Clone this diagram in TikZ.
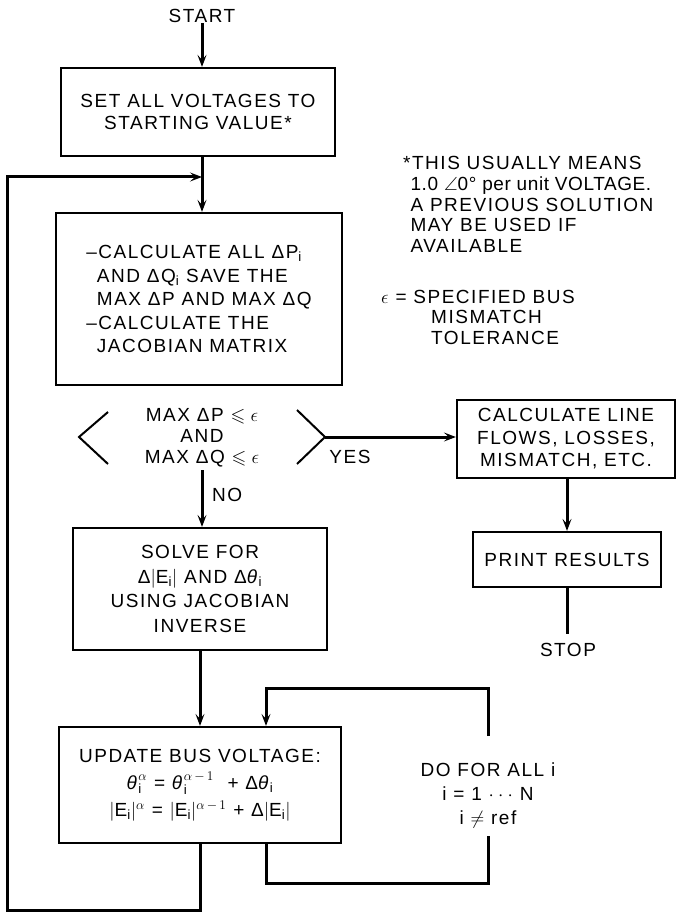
\RequirePackage{fix-cm}
\documentclass[tikz,border=0pt]{standalone}
\usepackage{amsmath,amssymb}
\usepackage{fontspec}
\setmainfont{Liberation Sans}[LetterSpace=8]
\usetikzlibrary{arrows.meta}
\newcommand\si{\ensuremath{_{\text{i}}}}
\newcommand\thi{\textit{θ}}
\begin{document}
\begin{tikzpicture}[x=1pt,y=-1pt,
  every node/.style={font=\fontsize{19}{22}\selectfont, inner sep=0pt},
  box/.style={draw, line width=2.2pt, align=center},
  conn/.style={line width=3pt},
  thinl/.style={line width=2pt},
  arr/.style={conn, -{Stealth[length=12pt,width=9pt,inset=5pt]}},
  txt/.style={align=center}]
\useasboundingbox (0,0) rectangle (677,912);

% main column
\node (start) at (202,16) {START};
\node[box, minimum width=274pt, minimum height=88pt] (set) at (198,112) {SET ALL VOLTAGES TO\\STARTING VALUE*};
\coordinate (j) at (202,177);
\node[box, minimum width=286pt, minimum height=172pt, align=left, font=\fontsize{19}{23.5}\selectfont] (calcd) at (199,299)
  {--CALCULATE ALL ΔP\si\\\hphantom{--}AND ΔQ\si{} SAVE THE\\\hphantom{--}MAX ΔP AND MAX ΔQ\\--CALCULATE THE\\\hphantom{--}JACOBIAN MATRIX};

% decision
\coordinate (dl1) at (108,412); \coordinate (dlv) at (79,437); \coordinate (dl2) at (108,464);
\coordinate (dr1) at (297,410); \coordinate (decR) at (325,437); \coordinate (dr2) at (297,464);
\draw[thinl] (dl1) -- (dlv) -- (dl2);
\draw[thinl] (dr1) -- (decR) -- (dr2);
\node[txt, font=\fontsize{19}{21}\selectfont] (dec) at (202,438) {MAX ΔP $\leqslant\epsilon$\\AND\\MAX ΔQ $\leqslant\epsilon$};
\node (yes) at (350,457) {YES};
\coordinate (decB) at (202,470);
\node[anchor=west] (no) at (212,495) {NO};

\node[box, minimum width=254pt, minimum height=122pt, font=\fontsize{19}{24.5}\selectfont] (solve) at (200,589)
  {SOLVE FOR\\Δ$|$E\si$|$ AND Δ\thi\si\\USING JACOBIAN\\INVERSE};

\node[box, minimum width=282pt, minimum height=116pt, font=\fontsize{19}{27}\selectfont] (upd) at (200,785)
  {UPDATE BUS VOLTAGE:\\$\text{\thi}^{\alpha}_{\text{i}}$ = $\text{\thi}^{\alpha\,-\,1}_{\text{i}}$\ \ + Δ\thi\si\\$|$E\si$|^{\alpha}$ = $|$E\si$|^{\alpha\,-\,1}$ + Δ$|$E\si$|$};

% inner loop
\coordinate (l1) at (266,883); \coordinate (l2) at (488,883); \coordinate (l3) at (488,836);
\coordinate (l4) at (488,736); \coordinate (l5) at (488,688); \coordinate (l6) at (266,688);
\node[txt, font=\fontsize{19}{24}\selectfont] (doall) at (488,795) {DO FOR ALL i\\i = 1 $\cdot\cdot\cdot$ N\\i $\neq$ ref};

% outer loop
\coordinate (b1) at (200,910); \coordinate (b2) at (7,910); \coordinate (b3) at (7,177);

% right column
\node[box, minimum width=218pt, minimum height=78pt, font=\fontsize{19}{22.5}\selectfont] (calc) at (566,439) {CALCULATE LINE\\FLOWS, LOSSES,\\MISMATCH, ETC.};
\node[box, minimum width=188pt, minimum height=55pt] (print) at (567,559.5) {PRINT RESULTS};
\node (stop) at (568,650) {STOP};
\coordinate (sp) at (567,634);

% notes
\node[anchor=north west, align=left, font=\fontsize{19}{20.8}\selectfont] (note) at (403,156)
  {*THIS USUALLY MEANS\\\hphantom{*}{\addfontfeatures{LetterSpace=3}1.0 $\angle$0\textdegree{} per unit VOLTAGE.}\\\hphantom{*}A PREVIOUS SOLUTION\\\hphantom{*}MAY BE USED IF\\\hphantom{*}AVAILABLE};
\node[anchor=north west, align=left, font=\fontsize{19}{20.5}\selectfont] (eps) at (381,290)
  {$\epsilon$ = SPECIFIED BUS\\\hspace*{50pt}MISMATCH\\\hspace*{50pt}TOLERANCE};

% connectors
\draw[arr] (start) -- (set.north -| start);
\draw[conn] (set.south -| j) -- (j);
\draw[arr] (j) -- (j |- calcd.north);
\draw[arr] (decR) -- (decR -| calc.west);
\draw[arr] (decB) -- (decB |- solve.north);
\draw[arr] (solve.south) -- (upd.north);
\draw[conn] (l1 |- upd.south) -- (l1) -- (l2) -- (l3);
\draw[arr] (l4) -- (l5) -- (l6) -- (l6 |- upd.north);
\draw[arr] (upd.south) -- (b1) -- (b2) -- (b3) -- (j);
\draw[arr] (print.north |- calc.south) -- (print.north);
\draw[conn] (print.south) -- (sp);
\end{tikzpicture}
\end{document}
